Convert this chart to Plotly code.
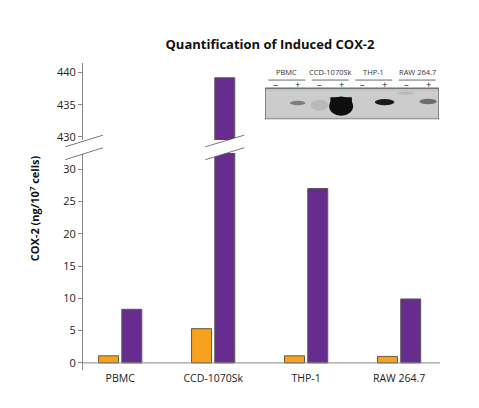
import plotly.graph_objects as go

# data
cells = ["PBMC", "CCD-1070Sk", "THP-1", "RAW 264.7"]
unstimulated = [1.1, 5.3, 1.1, 1.0]
induced = [8.3, 439.2, 27.0, 9.9]
lower_ticks = [0, 5, 10, 15, 20, 25, 30]
upper_ticks = [430, 435, 440]

# western blot inset: one entry per lane (-, + for each cell line)
blot_groups = ["PBMC", "CCD-1070Sk", "THP-1", "RAW 264.7"]
lane_signs = ["\u2013", "+"] * 4
band_intensity = [0.0, 0.42, 0.1, 1.0, 0.0, 0.95, 0.1, 0.5]

# band look (centre, height, half-width) in blot units
band_geom = [(0, 0, 0), (0.52, 0.14, 0.36), (0.45, 0.35, 0.4), (0.42, 0.62, 0.55),
             (0, 0, 0), (0.55, 0.2, 0.45), (0.84, 0.1, 0.4), (0.57, 0.18, 0.4)]

ORANGE = "#F7A11C"
PURPLE = "#662D8E"
FONT = "Open Sans"

# the page adds an 8px body margin, so the figure is drawn 8px smaller
W, H = 471, 400
PLOT_W, PLOT_H = 357, 306.6

fig = go.Figure()

for yax in ["y", "y2"]:
    fig.add_trace(go.Bar(x=cells, y=unstimulated, yaxis=yax, marker_color=ORANGE,
                         marker_line=dict(color="#6b5a3a", width=1), showlegend=False))
    fig.add_trace(go.Bar(x=cells, y=induced, yaxis=yax, marker_color=PURPLE,
                         marker_line=dict(color="#5a5a5a", width=1), showlegend=False))

shapes = []

# break marks: on the axis and across the tall bar
def add_break(xref, x0, x1):
    up0, up1 = 0.727, 0.765
    lo0, lo1 = 0.685, 0.724
    shapes.append(dict(type="path", xref=xref, yref="paper",
                       path=f"M {x0},{up0} L {x1},{up1} L {x1},{lo1} L {x0},{lo0} Z",
                       fillcolor="white", line=dict(width=0), layer="above"))
    for a, b in [(up0, up1), (lo0, lo1)]:
        shapes.append(dict(type="line", xref=xref, yref="paper", x0=x0, y0=a, x1=x1, y1=b,
                           line=dict(color="#555", width=0.8), layer="above"))

add_break("paper", -0.05, 0.056)
ccd_purple = cells.index("CCD-1070Sk") + 0.125
add_break("x", ccd_purple - 0.21, ccd_purple + 0.21)

# blot background
shapes.append(dict(type="rect", xref="x3", yref="y3", x0=0, x1=8, y0=0, y1=1,
                   fillcolor="#c4c4c4", line=dict(color="#444", width=1), layer="above"))
shapes.append(dict(type="rect", xref="x3", yref="y3", x0=0.05, x1=7.95, y0=0.08, y1=0.9,
                   fillcolor="#cccccc", line=dict(width=0), layer="above"))
# bands
for i, (inten, (yc, h, hw)) in enumerate(zip(band_intensity, band_geom)):
    if inten <= 0:
        continue
    xc = i + 0.5
    shapes.append(dict(type="circle", xref="x3", yref="y3",
                       x0=xc - hw, x1=xc + hw, y0=yc - h / 2, y1=yc + h / 2,
                       fillcolor=f"rgba(15,15,15,{inten})", line=dict(width=0), layer="above"))
    if inten > 0.9 and h > 0.5:
        # wide smeared top of the strongest band
        shapes.append(dict(type="rect", xref="x3", yref="y3",
                           x0=xc - hw * 0.9, x1=xc + hw * 0.9, y0=yc, y1=yc + h / 2 - 0.02,
                           fillcolor=f"rgba(15,15,15,{inten})", line=dict(width=0), layer="above"))
# group underlines
for g in range(len(blot_groups)):
    shapes.append(dict(type="line", xref="x3", yref="y3", x0=2 * g + 0.15, x1=2 * g + 1.85,
                       y0=1.26, y1=1.26, line=dict(color="#444", width=0.8)))

annotations = []
for g, name in enumerate(blot_groups):
    annotations.append(dict(x=2 * g + 1, y=1.28, xref="x3", yref="y3", text=name, showarrow=False,
                            yanchor="bottom", font=dict(size=7.5, color="#333", family=FONT)))
for i, s in enumerate(lane_signs):
    annotations.append(dict(x=i + 0.5, y=1.12, xref="x3", yref="y3", text=s, showarrow=False,
                            font=dict(size=9.5, color="#222", family=FONT)))

annotations.append(dict(x=(35 - 83) / PLOT_W, y=(369.6 - 208) / PLOT_H, xref="paper", yref="paper",
                        showarrow=False, xanchor="center", yanchor="middle",
                        text="COX-2 (ng/10<sup>7</sup> cells)", textangle=-90,
                        font=dict(size=11, color="#111", family=FONT, weight="bold")))

axis_style = dict(showline=True, linecolor="#888", linewidth=1, ticks="outside", ticklen=4,
                  tickcolor="#888", showgrid=False, zeroline=False,
                  tickfont=dict(size=11, color="#222", family=FONT))

fig.update_layout(
    width=W, height=H,
    margin=dict(l=75, r=W - 75 - PLOT_W, t=55, b=H - 55 - PLOT_H),
    paper_bgcolor="white", plot_bgcolor="white",
    barmode="group", bargap=0.5, bargroupgap=0.14,
    title=dict(text="<b>Quantification of Induced COX-2</b>", x=(270 - 8) / W, xanchor="center",
               y=1 - 36 / H, yanchor="middle",
               font=dict(size=13, color="#111", family=FONT)),
    xaxis=dict(anchor="y", showline=False, ticks="", showgrid=False, range=[-0.4, 3.44],
               tickfont=dict(size=10.5, color="#222", family=FONT)),
    yaxis=dict(domain=[0, 0.7065], range=[-1.1, 32.48], tickvals=lower_ticks,
               **axis_style),
    yaxis2=dict(domain=[0.749, 1], range=[429.5, 441.5], tickvals=upper_ticks,
                anchor="x", **axis_style),
    xaxis3=dict(domain=[0.51, 0.997], range=[0, 8], anchor="y3", visible=False),
    yaxis3=dict(domain=[0.817, 0.99], range=[0, 1.71], anchor="x3", visible=False),
    shapes=shapes,
    annotations=annotations,
)

# zero baseline
fig.add_hline(y=0, line=dict(color="#888", width=1), yref="y")

fig.write_html("out.html")
